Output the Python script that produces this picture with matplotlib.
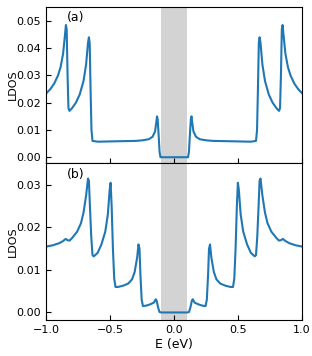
import numpy as np
import matplotlib.pyplot as plt

# panel (a)
e_a = [-1.00, -0.97, -0.94, -0.91, -0.89, -0.87, -0.855, -0.848, -0.842, -0.835, -0.828, -0.82,
       -0.80, -0.77, -0.74, -0.71, -0.69, -0.675, -0.668, -0.662, -0.655, -0.648, -0.64,
       -0.60, -0.50, -0.40, -0.30, -0.25, -0.20, -0.17, -0.15, -0.14, -0.135, -0.13, -0.122,
       -0.115, -0.108, -0.10,
       0.10, 0.108, 0.115, 0.122, 0.13, 0.135, 0.14, 0.15, 0.17, 0.20, 0.25, 0.30, 0.40,
       0.50, 0.60, 0.64, 0.648, 0.655, 0.662, 0.668, 0.675, 0.69, 0.71, 0.74, 0.77, 0.80,
       0.82, 0.828, 0.835, 0.842, 0.848, 0.855, 0.87, 0.89, 0.91, 0.94, 0.97, 1.00]
ldos_a = [0.0235, 0.0250, 0.0270, 0.0300, 0.0330, 0.0380, 0.0450, 0.0485, 0.0470, 0.0300, 0.0180, 0.0170,
          0.0180, 0.0200, 0.0230, 0.0280, 0.0340, 0.0420, 0.0440, 0.0420, 0.0250, 0.0100, 0.0060,
          0.0057, 0.0058, 0.0059, 0.0060, 0.0062, 0.0066, 0.0075, 0.0095, 0.0130, 0.0150, 0.0140, 0.0080,
          0.0020, 0.0000, 0.0000,
          0.0000, 0.0000, 0.0020, 0.0080, 0.0140, 0.0150, 0.0130, 0.0095, 0.0075, 0.0066, 0.0062, 0.0060, 0.0059,
          0.0058, 0.0057, 0.0060, 0.0100, 0.0250, 0.0420, 0.0440, 0.0420, 0.0340, 0.0280, 0.0230, 0.0200, 0.0180,
          0.0170, 0.0180, 0.0300, 0.0470, 0.0485, 0.0450, 0.0380, 0.0330, 0.0300, 0.0270, 0.0250, 0.0235]

# panel (b)
e_b = [-1.00, -0.95, -0.90, -0.87, -0.85, -0.835, -0.82, -0.80, -0.76, -0.73, -0.71, -0.69,
       -0.675, -0.668, -0.66, -0.65, -0.64, -0.63, -0.60, -0.57, -0.54, -0.52, -0.505, -0.498,
       -0.49, -0.48, -0.47, -0.46, -0.44, -0.40, -0.36, -0.33, -0.31, -0.29, -0.28, -0.272,
       -0.265, -0.255, -0.245, -0.22, -0.19, -0.16, -0.145, -0.138, -0.125, -0.115, -0.10,
       0.10, 0.115, 0.125, 0.138, 0.145, 0.16, 0.19, 0.22, 0.245, 0.255, 0.265, 0.272,
       0.28, 0.29, 0.31, 0.33, 0.36, 0.40, 0.44, 0.46, 0.47, 0.48, 0.49, 0.498, 0.505,
       0.52, 0.54, 0.57, 0.60, 0.63, 0.64, 0.65, 0.66, 0.668, 0.675, 0.69, 0.71, 0.73,
       0.76, 0.80, 0.82, 0.835, 0.85, 0.87, 0.90, 0.95, 1.00]
ldos_b = [0.0155, 0.0158, 0.0163, 0.0168, 0.0173, 0.0170, 0.0169, 0.0175, 0.0190, 0.0210, 0.0235, 0.0275,
          0.0315, 0.0310, 0.0250, 0.0180, 0.0135, 0.0132, 0.0140, 0.0160, 0.0190, 0.0230, 0.0290, 0.0305,
          0.0250, 0.0150, 0.0080, 0.0060, 0.0060, 0.0063, 0.0068, 0.0078, 0.0095, 0.0130, 0.0160, 0.0150,
          0.0090, 0.0030, 0.0015, 0.0016, 0.0019, 0.0023, 0.0031, 0.0028, 0.0010, 0.0001, 0.0000,
          0.0000, 0.0001, 0.0010, 0.0028, 0.0031, 0.0023, 0.0019, 0.0016, 0.0015, 0.0030, 0.0090, 0.0150,
          0.0160, 0.0130, 0.0095, 0.0078, 0.0068, 0.0063, 0.0060, 0.0060, 0.0080, 0.0150, 0.0250, 0.0305, 0.0290,
          0.0230, 0.0190, 0.0160, 0.0140, 0.0132, 0.0135, 0.0180, 0.0250, 0.0310, 0.0315, 0.0275, 0.0235, 0.0210,
          0.0190, 0.0175, 0.0169, 0.0170, 0.0173, 0.0168, 0.0163, 0.0158, 0.0155]

gap = (-0.1, 0.1)

fig, (ax1, ax2) = plt.subplots(2, 1, figsize=(3.12, 3.56), dpi=100, sharex=True)
fig.subplots_adjust(left=0.149, right=0.968, top=0.981, bottom=0.102, hspace=0)

for ax, e, y, lab, ylim in [(ax1, e_a, ldos_a, '(a)', (-0.0022, 0.0552)),
                            (ax2, e_b, ldos_b, '(b)', (-0.0017, 0.0351))]:
    ax.axvspan(gap[0], gap[1], color='lightgray', lw=0)
    ax.plot(e, y, color='tab:blue', lw=1.5)
    ax.set_ylim(*ylim)
    ax.set_xlim(-1, 1)
    ax.set_ylabel('LDOS', fontsize=8, labelpad=-1)
    ax.tick_params(direction='in', labelsize=8, pad=4)
    ax.text(0.08, 0.97, lab, transform=ax.transAxes, fontsize=9, va='top')

ax1.set_yticks([0.0, 0.01, 0.02, 0.03, 0.04, 0.05])
ax2.set_yticks([0.0, 0.01, 0.02, 0.03])
ax2.set_xticks([-1.0, -0.5, 0.0, 0.5, 1.0])
ax2.set_xlabel('E (eV)', fontsize=9, labelpad=2)

fig.savefig('out.png')
